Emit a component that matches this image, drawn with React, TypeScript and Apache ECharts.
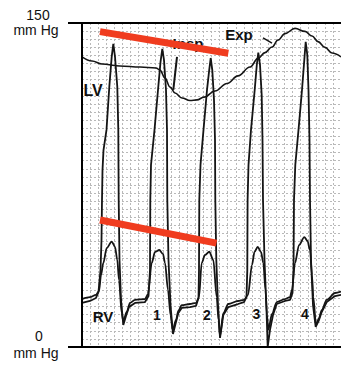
import React, { useEffect, useRef } from "react";
import * as echarts from "echarts";

// time axis (ms) and pressure axis (mm Hg)
const timeMinMs = 0;
const timeMaxMs = 2590;
const timeBoxes = 32;
const pressureMin = 0;
const pressureMax = 150;
const pressureBoxes = 40;

const topLabel = ["150", "mm Hg"];
const bottomLabel = ["0", "mm Hg"];
const beatLabels = ["RV", "1", "2", "3", "4"];

// LV pressure [ms, mm Hg]
const lvPressure: [number, number][] = [
  [0, 20.4], [80, 21.3], [140, 22.7], [165, 25.5], [185, 35.6], [195, 49.5], [200, 68.1], [205, 81.9],
  [215, 91.2], [245, 100.5], [273, 120.4], [297, 134.3], [313, 140.3], [330, 134.4], [353, 120.5],
  [363, 100.5], [367, 68.1], [375, 40.3], [390, 21.8], [413, 10.2], [440, 14.4], [470, 18.5],
  [530, 20.4], [630, 20.8], [665, 23.6],
  [680, 35.6], [683, 68.1], [690, 84.3], [725, 100.5], [760, 119.0], [785, 131.9], [803, 138.0],
  [820, 132.9], [840, 119.0], [850, 100.5], [853, 68.1], [865, 40.3], [885, 19.4], [910, 6.0],
  [940, 11.6], [963, 15.7], [997, 18.1], [1080, 18.5], [1140, 19.0], [1165, 22.7],
  [1170, 35.6], [1173, 68.1], [1185, 84.3], [1215, 100.5], [1250, 119.0], [1272, 128.2], [1287, 133.8],
  [1303, 128.2], [1320, 114.4], [1330, 95.8], [1333, 68.1], [1343, 40.3], [1360, 19.4], [1380, 4.2],
  [1413, 14.8], [1463, 18.5], [1560, 19.9], [1620, 20.8], [1645, 23.1],
  [1653, 35.6], [1656, 68.1], [1665, 84.3], [1690, 100.5], [1727, 119.0], [1748, 130.6], [1763, 136.3],
  [1780, 130.6], [1797, 116.7], [1805, 95.8], [1810, 68.1], [1825, 40.3], [1845, 17.1], [1857, 0],
  [1880, 7.9], [1910, 14.8], [1947, 19.9], [2030, 21.3], [2080, 21.8], [2105, 25.0],
  [2115, 35.6], [2120, 68.1], [2133, 84.3], [2165, 100.5], [2200, 119.0], [2223, 132.9], [2237, 141.3],
  [2253, 135.2], [2265, 119.0], [2275, 95.8], [2280, 68.1], [2290, 40.3], [2310, 19.4], [2337, 9.3],
  [2370, 12.5], [2397, 16.2], [2447, 20.8], [2530, 23.6], [2590, 24.1],
];

// RV pressure [ms, mm Hg]
const rvPressure: [number, number][] = [
  [0, 22.2], [80, 23.1], [140, 24.1], [170, 25.9], [190, 33.3], [213, 38.9], [247, 45.8], [297, 48.8],
  [330, 46.4], [353, 40.3], [370, 31.0], [397, 15.7], [413, 12.0], [447, 16.2], [480, 20.4],
  [530, 21.8], [630, 22.2], [660, 24.5],
  [697, 38.9], [730, 44.0], [773, 44.9], [810, 43.1], [830, 38.9], [860, 26.4], [885, 14.8], [907, 7.9],
  [940, 12.5], [963, 16.7], [997, 19.4], [1080, 19.9], [1140, 20.4], [1170, 23.1],
  [1197, 38.9], [1230, 42.6], [1273, 44.1], [1313, 40.3], [1347, 23.1], [1365, 12.5], [1380, 5.1],
  [1413, 15.7], [1463, 19.9], [1560, 21.3], [1620, 21.8], [1660, 24.1],
  [1700, 38.0], [1725, 44.0], [1757, 46.4], [1790, 44.0], [1813, 38.9], [1835, 26.4], [1850, 14.8], [1863, 7.9],
  [1900, 15.3], [1947, 20.8], [2030, 22.2], [2080, 23.1], [2100, 26.4],
  [2130, 38.9], [2170, 47.2], [2223, 50.9], [2255, 49.1], [2280, 44.9], [2300, 33.3], [2313, 23.1], [2340, 10.2],
  [2370, 13.4], [2397, 17.1], [2447, 21.8], [2530, 25.0], [2590, 25.7],
];

// respiratory trace [ms, mm Hg scale]
const respiration: [number, number][] = [
  [0, 134.3], [100, 132.4], [200, 131.0], [380, 130.1], [580, 129.6], [740, 129.2], [780, 128.2],
  [830, 124.5], [880, 120.4], [930, 117.6], [1000, 115.3], [1080, 114.1], [1150, 114.4], [1220, 115.7],
  [1330, 118.5], [1450, 122.0], [1560, 125.5], [1680, 129.6], [1760, 133.6], [1830, 136.3], [1900, 138.9],
  [1960, 142.1], [2030, 145.1], [2130, 147.5], [2230, 146.1], [2300, 144.0], [2360, 141.4], [2430, 138.7],
  [2500, 136.1], [2590, 134.3],
];

// annotation lines
const lvTrend: [number, number][] = [[180, 146.0], [1463, 136.0]];
const rvTrend: [number, number][] = [[180, 58.8], [1345, 48.1]];
const inspPointer: [number, number][] = [[950, 134.3], [913, 119.0]];
const expPointer: [number, number][] = [[1810, 143.1], [1900, 140.7]];

export default function App() {
  const ref = useRef<HTMLDivElement>(null);
  useEffect(() => {
    if (!ref.current) return;
    const chart = echarts.init(ref.current, undefined, { renderer: "svg" });
    const font = '"Liberation Sans", Arial, sans-serif';
    const trace = (data: [number, number][], smooth: number, width: number, z = 3) => ({
      type: "line",
      data,
      showSymbol: false,
      smooth,
      smoothMonotone: smooth ? "x" : undefined,
      lineStyle: { color: "#151515", width },
      z,
      silent: true,
    });
    const red = (data: [number, number][]) => ({
      type: "line",
      data,
      showSymbol: false,
      lineStyle: { color: "#f03c1f", width: 7, cap: "butt" },
      z: 6,
      silent: true,
    });
    const txt = (text: string, x: number, y: number, size: number, bold: boolean, z = 10) => ({
      type: "text",
      x,
      y,
      z,
      style: {
        text,
        font: `${bold ? "bold " : ""}${size}px ${font}`,
        fill: "#111",
        align: "center",
        verticalAlign: "middle",
      },
    });
    const gridLine = { show: true, lineStyle: { color: "#b9b9b9", width: 1, type: [2, 2] } };
    chart.setOption({
      animation: false,
      backgroundColor: "#ffffff",
      grid: { left: 82, top: 23, right: 0, bottom: 18 },
      xAxis: {
        type: "value",
        min: timeMinMs,
        max: timeMaxMs,
        interval: (timeMaxMs - timeMinMs) / timeBoxes,
        axisLine: { show: false },
        axisTick: { show: false },
        axisLabel: { show: false },
        splitLine: gridLine,
      },
      yAxis: {
        type: "value",
        min: pressureMin,
        max: pressureMax,
        interval: (pressureMax - pressureMin) / pressureBoxes,
        axisLine: { show: false },
        axisTick: { show: false },
        axisLabel: { show: false },
        splitLine: gridLine,
      },
      series: [
        trace(respiration, 0.4, 1.6),
        trace(rvPressure, 0.3, 1.8),
        trace(lvPressure, 0, 1.8),
        trace(inspPointer, 0, 2),
        trace(expPointer, 0, 1.5),
        red(lvTrend),
        red(rvTrend),
      ],
      graphic: [
        { type: "line", z: 20, shape: { x1: 68, y1: 23, x2: 341, y2: 23 }, style: { stroke: "#000", lineWidth: 2 } },
        { type: "line", z: 20, shape: { x1: 68, y1: 347, x2: 341, y2: 347 }, style: { stroke: "#000", lineWidth: 2 } },
        { type: "line", z: 20, shape: { x1: 82, y1: 23, x2: 82, y2: 347 }, style: { stroke: "#000", lineWidth: 2 } },
        txt(topLabel[0], 38, 15, 14, false),
        txt(topLabel[1], 36, 30, 14, false),
        txt(bottomLabel[0], 39, 336, 14, false),
        txt(bottomLabel[1], 36, 353, 14, false),
        txt("LV", 93, 90, 16, true),
        txt("Insp", 188, 43, 15, true, 1),
        txt("Exp", 239, 34, 15, true),
        txt(beatLabels[0], 103, 316, 15, true),
        txt(beatLabels[1], 157, 315, 14, true),
        txt(beatLabels[2], 207, 315, 14, true),
        txt(beatLabels[3], 256.5, 314, 14, true),
        txt(beatLabels[4], 305, 314, 14, true),
      ],
    });
    return () => chart.dispose();
  }, []);
  return <div ref={ref} style={{ position: "fixed", left: 0, top: 0, width: 341, height: 365 }} />;
}
